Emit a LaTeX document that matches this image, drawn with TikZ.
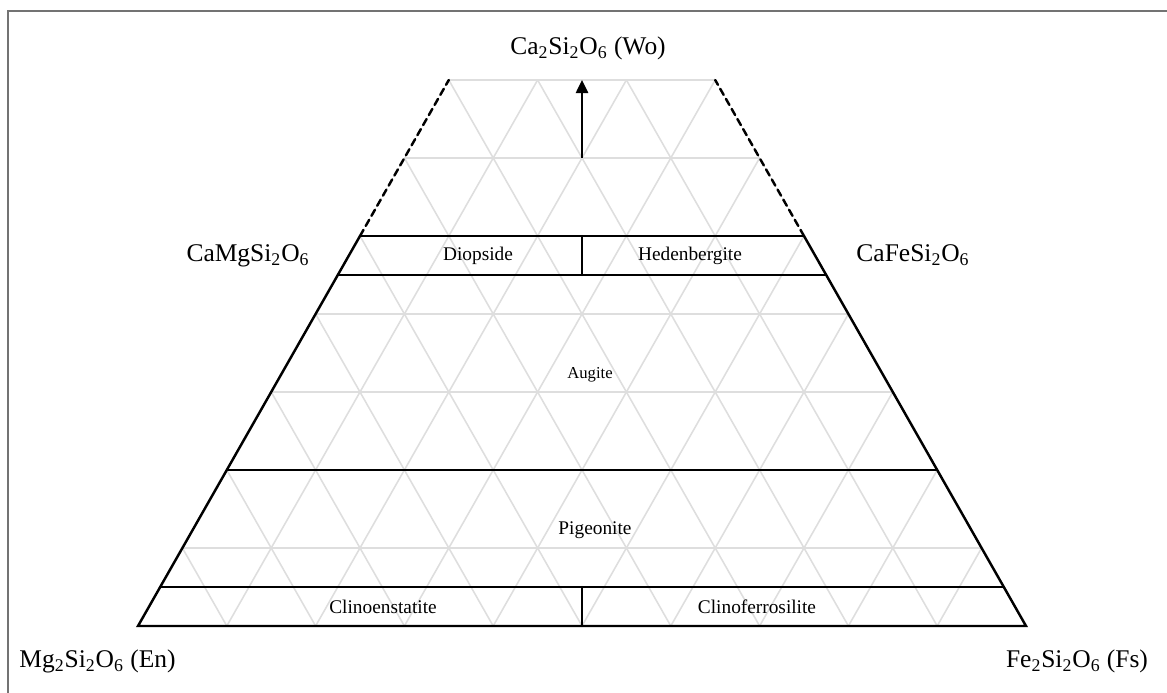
\documentclass[tikz,border=0pt]{standalone}
\usepackage{fontspec}
\setmainfont{Liberation Serif}
\usepackage{tikz}
\usetikzlibrary{arrows.meta}
\usepackage{tkz-euclide}
\tikzset{
  fieldline/.style={line width=1.4pt,black},
  gridline/.style={line width=0.9pt,black!13},
  capline/.style={line width=1.4pt,black,dash pattern=on 4pt off 2.6pt},
  endmember/.style={font=\fontsize{14.5}{17}\selectfont,anchor=base,inner sep=0pt},
  fieldname/.style={font=\fontsize{11}{13}\selectfont,inner sep=1pt}
}

\begin{document}
\begin{tikzpicture}
      \useasboundingbox (0,0) rectangle (23.34,13.86);
      \draw[black!55,line width=1.2pt] (0.16,0) -- (0.16,13.64) -- (23.34,13.64);

      \tkzDefPoint(2.76,1.34){En}
      \tkzDefPoint(20.52,1.34){Fs}
      \tkzDefPoint(11.64,1.34){Mb}
      \tkzDefPoint(3.204,2.12){La}
      \tkzDefPoint(20.076,2.12){Ra}
      \tkzDefPoint(11.64,2.12){Ma}
      \tkzDefPoint(4.536,4.46){Lb}
      \tkzDefPoint(18.744,4.46){Rb}
      \tkzDefPoint(6.756,8.36){Lc}
      \tkzDefPoint(16.524,8.36){Rc}
      \tkzDefPoint(11.64,8.36){Mc}
      \tkzDefPoint(7.20,9.14){Ld}
      \tkzDefPoint(16.08,9.14){Rd}
      \tkzDefPoint(11.64,9.14){Md}
      \tkzDefPoint(8.976,12.26){Le}
      \tkzDefPoint(14.304,12.26){Re}
      \tkzDefPoint(11.64,10.70){Ao}
      \tkzDefPoint(11.64,12.26){Wo}

      % 10% ternary grid
      \begin{scope}
        \clip (En) -- (Fs) -- (Re) -- (Le) -- cycle;
        \foreach \i in {1,...,9}{
          \draw[gridline] ({2.76+1.776*\i},1.34) -- ({11.64+0.888*\i},{16.94-1.56*\i});
          \draw[gridline] ({20.52-1.776*\i},1.34) -- ({11.64-0.888*\i},{16.94-1.56*\i});
        }
      \end{scope}
      \foreach \i in {1,...,7}
        \draw[gridline] ({2.76+0.888*\i},{1.34+1.56*\i}) -- ({20.52-0.888*\i},{1.34+1.56*\i});

      \draw[fieldline,line join=miter] (Ld) -- (En) -- (Fs) -- (Rd);
      \tkzDrawSegments[fieldline](La,Ra Lb,Rb Lc,Rc Ld,Rd Mb,Ma Mc,Md)
      \tkzDrawSegments[capline](Ld,Le Rd,Re)
      \draw[line width=1.2pt,-{Triangle[length=7.5pt,width=7pt]}] (Ao) -- (Wo);

      \node[endmember] (wo) at (11.76,12.76) {Ca\textsubscript{2}Si\textsubscript{2}O\textsubscript{6} (Wo)};
      \node[endmember] (di) at (4.96,8.62) {CaMgSi\textsubscript{2}O\textsubscript{6}};
      \node[endmember] (hd) at (18.26,8.62) {CaFeSi\textsubscript{2}O\textsubscript{6}};
      \node[endmember] (en) at (1.95,0.50) {Mg\textsubscript{2}Si\textsubscript{2}O\textsubscript{6} (En)};
      \node[endmember] (fs) at (21.54,0.50) {Fe\textsubscript{2}Si\textsubscript{2}O\textsubscript{6} (Fs)};

      \node[fieldname] (diopside) at (9.56,8.74) {Diopside};
      \node[fieldname] (hedenbergite) at (13.80,8.74) {Hedenbergite};
      \node[fieldname,font=\fontsize{9.5}{11}\selectfont] (augite) at (11.80,6.36) {Augite};
      \node[fieldname] (pigeonite) at (11.90,3.26) {Pigeonite};
      \node[fieldname] (clinoen) at (7.66,1.72) {Clinoenstatite};
      \node[fieldname] (clinofs) at (15.14,1.72) {Clinoferrosilite};
\end{tikzpicture}
\end{document}
